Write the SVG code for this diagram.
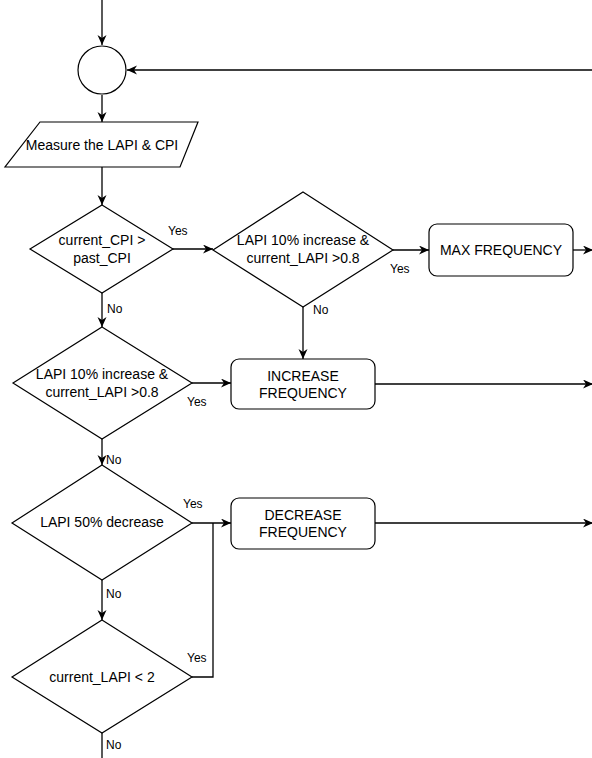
<svg xmlns="http://www.w3.org/2000/svg" width="592" height="758" viewBox="0 0 592 758">
<style>
.shape{fill:#fff;stroke:#000;stroke-width:1.2}
.t{font-family:"Liberation Sans",Arial,sans-serif;font-size:14px;fill:#000;text-anchor:middle;dominant-baseline:central}
.l{font-family:"Liberation Sans",Arial,sans-serif;font-size:12px;fill:#000;dominant-baseline:central}
.c{fill:none;stroke:#000;stroke-width:1.3}
</style>
<defs>
<marker id="ah" markerUnits="userSpaceOnUse" markerWidth="12" markerHeight="10" refX="10" refY="4.5" orient="auto" viewBox="0 0 12 10">
<path d="M0,0 L10,4.5 L0,9 L3,4.5 z" fill="#000"/>
</marker>
</defs>
<rect width="592" height="758" fill="#fff"/>
<g id="connectors">
<path class="c" d="M102,0 V45" marker-end="url(#ah)"/>
<path class="c" d="M592,70 H127" marker-end="url(#ah)"/>
<path class="c" d="M102,95 V122" marker-end="url(#ah)"/>
<path class="c" d="M102,167 V205" marker-end="url(#ah)"/>
<path class="c" d="M173,249 H213" marker-end="url(#ah)"/>
<path class="c" d="M393,250 H429" marker-end="url(#ah)"/>
<path class="c" d="M573,250 H593" marker-end="url(#ah)"/>
<path class="c" d="M303,307 V359" marker-end="url(#ah)"/>
<path class="c" d="M102,293 V327" marker-end="url(#ah)"/>
<path class="c" d="M192,383 H231" marker-end="url(#ah)"/>
<path class="c" d="M375,384 H593" marker-end="url(#ah)"/>
<path class="c" d="M102,439 V465" marker-end="url(#ah)"/>
<path class="c" d="M192,523 H231" marker-end="url(#ah)"/>
<path class="c" d="M375,523 H593" marker-end="url(#ah)"/>
<path class="c" d="M102,580 V620" marker-end="url(#ah)"/>
<path class="c" d="M192,677 H213 V523"/>
<path class="c" d="M102,733 V758"/>
<text class="l" x="168" y="231">Yes</text>
<text class="l" x="390" y="269">Yes</text>
<text class="l" x="313" y="310">No</text>
<text class="l" x="107" y="309">No</text>
<text class="l" x="187" y="402">Yes</text>
<text class="l" x="106" y="460">No</text>
<text class="l" x="183" y="504">Yes</text>
<text class="l" x="106" y="594">No</text>
<text class="l" x="187" y="658">Yes</text>
<text class="l" x="106" y="745">No</text>
</g>
<g id="start">
<circle class="shape" cx="102" cy="70" r="24"/>
</g>
<g id="measure">
<polygon class="shape" points="40,122 198,122 180,167 5,167"/>
<text class="t" x="102" y="145">Measure the LAPI &amp; CPI</text>
</g>
<g id="cpi">
<polygon class="shape" points="102,205 173,249 102,293 30,249"/>
<text class="t" x="102" y="240">current_CPI &gt;</text>
<text class="t" x="102" y="258">past_CPI</text>
</g>
<g id="lapi1">
<polygon class="shape" points="303,192 393,250 303,307 213,250"/>
<text class="t" x="303" y="240">LAPI 10% increase &amp;</text>
<text class="t" x="303" y="258">current_LAPI &gt;0.8</text>
</g>
<g id="max">
<rect class="shape" x="429" y="224" width="144" height="52" rx="8"/>
<text class="t" x="501" y="250">MAX FREQUENCY</text>
</g>
<g id="lapi2">
<polygon class="shape" points="102,327 192,383 102,439 13,383"/>
<text class="t" x="102" y="374">LAPI 10% increase &amp;</text>
<text class="t" x="102" y="392">current_LAPI &gt;0.8</text>
</g>
<g id="increase">
<rect class="shape" x="231" y="359" width="144" height="50" rx="8"/>
<text class="t" x="303" y="376">INCREASE</text>
<text class="t" x="303" y="393">FREQUENCY</text>
</g>
<g id="lapi50">
<polygon class="shape" points="102,465 192,523 102,580 12,523"/>
<text class="t" x="102" y="522">LAPI 50% decrease</text>
</g>
<g id="decrease">
<rect class="shape" x="231" y="498" width="144" height="51" rx="8"/>
<text class="t" x="303" y="515">DECREASE</text>
<text class="t" x="303" y="532">FREQUENCY</text>
</g>
<g id="lapi2lt">
<polygon class="shape" points="102,620 192,677 102,733 12,677"/>
<text class="t" x="102" y="677">current_LAPI &lt; 2</text>
</g>
</svg>
